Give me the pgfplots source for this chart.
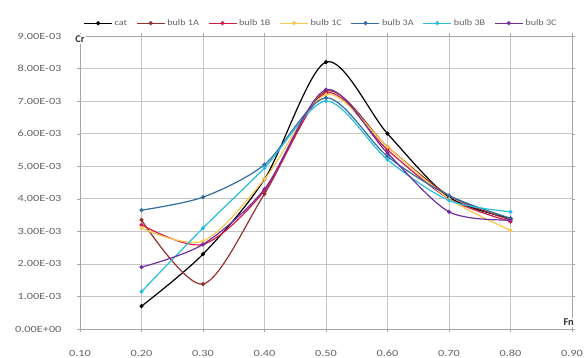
\documentclass[border=0pt]{standalone}
\usepackage{pgfplots}
\pgfplotsset{compat=1.18}
\usepackage{fontspec}
\setmainfont{Carlito}
\newfontfamily\widefont[FakeStretch=1.3]{Carlito}
\newfontfamily\legfont[FakeStretch=1.2]{Carlito}
\definecolor{c1A}{RGB}{150,50,45}
\definecolor{c1B}{RGB}{215,25,70}
\definecolor{c1C}{RGB}{250,200,80}
\definecolor{c3A}{RGB}{50,110,165}
\definecolor{c3B}{RGB}{40,190,220}
\definecolor{c3C}{RGB}{112,48,160}
\definecolor{txt}{RGB}{100,100,100}
\begin{document}
\begin{tikzpicture}
\useasboundingbox (-80bp,-29bp) rectangle (504bp,329bp);
\begin{axis}[
  at={(0,0)}, anchor=south west,
  width=492bp, height=293bp, scale only axis,
  xmin=0.1, xmax=0.9, ymin=0, ymax=0.009,
  xtick={0.1,0.2,0.3,0.4,0.5,0.6,0.7,0.8,0.9},
  xticklabels={0.10,0.20,0.30,0.40,0.50,0.60,0.70,0.80,0.90},
  ytick={0,0.001,0.002,0.003,0.004,0.005,0.006,0.007,0.008,0.009},
  yticklabels={0.00E+00,1.00E-03,2.00E-03,3.00E-03,4.00E-03,5.00E-03,6.00E-03,7.00E-03,8.00E-03,9.00E-03},
  scaled ticks=false,
  grid=major,
  grid style={gray!45, line width=0.6bp},
  axis line style={gray!70, line width=0.7bp},
  tick style={gray!70},
  tick align=outside, major tick length=3bp,
  ticklabel style={font=\widefont\fontsize{9.5}{10}\selectfont, text=txt},
  xticklabel style={yshift=-15bp},
  yticklabel style={xshift=-12bp},
  legend style={at={(0.49,1)}, anchor=south, yshift=5bp, draw=none, fill=none,
    font=\legfont\fontsize{8.5}{9}\selectfont, text=txt, legend columns=-1,
    /tikz/every even column/.append style={column sep=7bp}},
  legend image code/.code={\draw[mark repeat=2,mark phase=2] plot coordinates {(0bp,0bp) (14bp,0bp) (28bp,0bp)};},
  every axis plot/.append style={smooth, line width=1.2bp, mark=*, mark size=1.4bp},
  clip=false,
]
\addplot[black, mark options={fill=black}] coordinates {(0.2,0.0007) (0.3,0.0023) (0.4,0.0046) (0.5,0.0082) (0.6,0.0060) (0.7,0.00405) (0.8,0.0034)};
\addlegendentry{cat}
\addplot[c1A, mark options={fill=c1A}] coordinates {(0.2,0.00335) (0.3,0.00138) (0.4,0.00415) (0.5,0.0073) (0.6,0.0056) (0.7,0.0041) (0.8,0.00335)};
\addlegendentry{bulb 1A}
\addplot[c1B, mark options={fill=c1B}] coordinates {(0.2,0.0032) (0.3,0.0026) (0.4,0.00425) (0.5,0.00725) (0.6,0.0055) (0.7,0.0040) (0.8,0.0033)};
\addlegendentry{bulb 1B}
\addplot[c1C, mark options={fill=c1C}] coordinates {(0.2,0.0031) (0.3,0.0027) (0.4,0.0046) (0.5,0.0072) (0.6,0.0056) (0.7,0.0040) (0.8,0.00303)};
\addlegendentry{bulb 1C}
\addplot[c3A, mark options={fill=c3A}] coordinates {(0.2,0.00365) (0.3,0.00405) (0.4,0.00505) (0.5,0.0071) (0.6,0.0053) (0.7,0.0041) (0.8,0.0034)};
\addlegendentry{bulb 3A}
\addplot[c3B, mark options={fill=c3B}] coordinates {(0.2,0.00115) (0.3,0.0031) (0.4,0.00495) (0.5,0.0070) (0.6,0.0052) (0.7,0.00395) (0.8,0.0036)};
\addlegendentry{bulb 3B}
\addplot[c3C, mark options={fill=c3C}] coordinates {(0.2,0.0019) (0.3,0.0026) (0.4,0.0043) (0.5,0.00735) (0.6,0.0054) (0.7,0.0036) (0.8,0.00335)};
\addlegendentry{bulb 3C}
\node[anchor=center, font=\bfseries\fontsize{10.5}{11}\selectfont, text=black!80, fill=white, inner sep=1.5bp] at (rel axis cs:0,1) [yshift=-3bp] {Cr};
\node[anchor=south east, font=\bfseries\fontsize{10.5}{11}\selectfont, text=black!80, fill=white, inner sep=1bp] at (rel axis cs:1,0) [xshift=3bp, yshift=2bp] {Fn};
\end{axis}
\end{tikzpicture}
\end{document}
